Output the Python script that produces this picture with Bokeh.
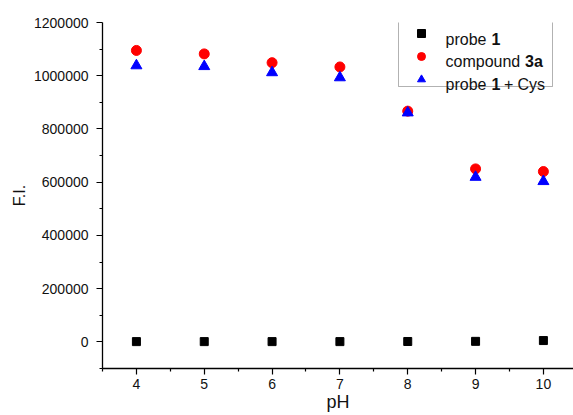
from bokeh.plotting import figure
from bokeh.models import (FixedTicker, Legend, LegendItem, Label, Range1d,
                          NumeralTickFormatter, BoxAnnotation)
from bokeh.embed import file_html
from bokeh.resources import INLINE

# ---- data ----
ph = [4, 5, 6, 7, 8, 9, 10]
probe1 = [1000, 1000, 1000, 1000, 1500, 2000, 5000]
compound3a = [1095000, 1082000, 1049000, 1033000, 867000, 650000, 640000]
probe1_cys = [1038000, 1035000, 1012000, 993000, 861000, 619000, 603000]

x_ticks = [4, 5, 6, 7, 8, 9, 10]
x_minor = [3.5, 4.5, 5.5, 6.5, 7.5, 8.5, 9.5, 10.5]
y_ticks = [0, 200000, 400000, 600000, 800000, 1000000, 1200000]
y_minor = [-100000, 100000, 300000, 500000, 700000, 900000, 1100000]

FONT = "Liberation Sans"

# ---- layout constants (pixels) ----
W, H = 573, 415
B_LEFT, B_TOP, B_BOTTOM = 102, 22, 47
FRAME_W = W - B_LEFT
FRAME_H = H - B_TOP - B_BOTTOM
X0, Y0, Y1 = 3.5, -100000, 1200000
PX_PER_X = 67.83
X1 = X0 + FRAME_W / PX_PER_X
Y_PER_PX = (Y1 - Y0) / FRAME_H

def cy_to_data(cy):
    return Y1 - (cy - B_TOP) * Y_PER_PX

def cx_to_data(cx):
    return X0 + (cx - B_LEFT) / PX_PER_X

p = figure(width=W, height=H, x_range=Range1d(X0, X1), y_range=Range1d(Y0, Y1),
           output_backend="svg", toolbar_location=None,
           min_border_left=B_LEFT, min_border_right=0,
           min_border_top=B_TOP, min_border_bottom=B_BOTTOM)
p.outline_line_color = None
p.xgrid.visible = False
p.ygrid.visible = False
p.background_fill_color = "white"
p.border_fill_color = "white"

for ax in (p.xaxis[0], p.yaxis[0]):
    ax.axis_line_width = 1.3
    ax.axis_line_color = "black"
    ax.major_tick_line_color = "black"
    ax.minor_tick_line_color = "black"
    ax.major_tick_line_width = 1.2
    ax.minor_tick_line_width = 1.2
    ax.major_tick_out = 6
    ax.major_tick_in = 0
    ax.minor_tick_out = 3
    ax.minor_tick_in = 0
    ax.major_label_text_font = FONT
    ax.major_label_text_font_size = "14px"
    ax.major_label_text_color = "#111111"
    ax.axis_label_text_font = FONT
    ax.axis_label_text_font_style = "normal"
    ax.axis_label_text_color = "#111111"

p.xaxis[0].ticker = FixedTicker(ticks=x_ticks, minor_ticks=x_minor)
p.yaxis[0].ticker = FixedTicker(ticks=y_ticks, minor_ticks=y_minor)
p.yaxis[0].formatter = NumeralTickFormatter(format="0")
p.xaxis[0].major_label_standoff = 4
p.xaxis[0].axis_label = "pH"
p.xaxis[0].axis_label_text_font_size = "18px"
p.xaxis[0].axis_label_standoff = 0
p.yaxis[0].major_label_standoff = 8
p.yaxis[0].axis_label = "F.I."
p.yaxis[0].axis_label_text_font_size = "16px"
p.yaxis[0].axis_label_standoff = 3

r1 = p.scatter(ph, probe1, marker="square", size=8, color="black")
r2 = p.scatter(ph, compound3a, marker="circle", size=10, color="#ff0000")
r3 = p.scatter(ph, probe1_cys, marker="triangle", size=11, color="#0000ff")

# legend frame
BOX_L, BOX_R, BOX_T, BOX_B = 398, 552, 21, 86
p.add_layout(BoxAnnotation(left=cx_to_data(BOX_L), right=cx_to_data(BOX_R),
                           top=cy_to_data(BOX_T), bottom=cy_to_data(BOX_B),
                           fill_alpha=0, line_color="black", line_width=1))

# legend markers
LEG_TOP, GH, SP, GW = 23, 20, 3, 46
leg_h = 3 * GH + 2 * SP
legend = Legend(items=[LegendItem(label=" ", renderers=[r1]),
                       LegendItem(label=" ", renderers=[r2]),
                       LegendItem(label=" ", renderers=[r3])],
                location=(BOX_L - B_LEFT, (B_TOP + FRAME_H) - (LEG_TOP + leg_h)),
                padding=0, spacing=SP, glyph_width=GW, glyph_height=GH,
                label_standoff=0, label_width=60, label_height=GH, margin=0,
                border_line_color=None, background_fill_alpha=0,
                label_text_font_size="16px")
p.add_layout(legend)

# legend texts (with bold parts)
TX = 445
baselines = [38.5, 61, 83.5]
parts = [
    (0, "probe", "normal", 0), (0, "1", "bold", 46),
    (1, "compound", "normal", 0), (1, "3a", "bold", 79.5),
    (2, "probe", "normal", 0), (2, "1", "bold", 46), (2, "+", "normal", 58.5), (2, "Cys", "normal", 72),
]
for row, txt, style, off in parts:
    p.add_layout(Label(x=cx_to_data(TX), y=cy_to_data(baselines[row]), x_offset=off, text=txt,
                       text_align="left", text_baseline="alphabetic", text_font=FONT,
                       text_font_size="16px", text_font_style=style, text_color="#111111"))

open("out.html", "w").write(file_html(p, INLINE))
